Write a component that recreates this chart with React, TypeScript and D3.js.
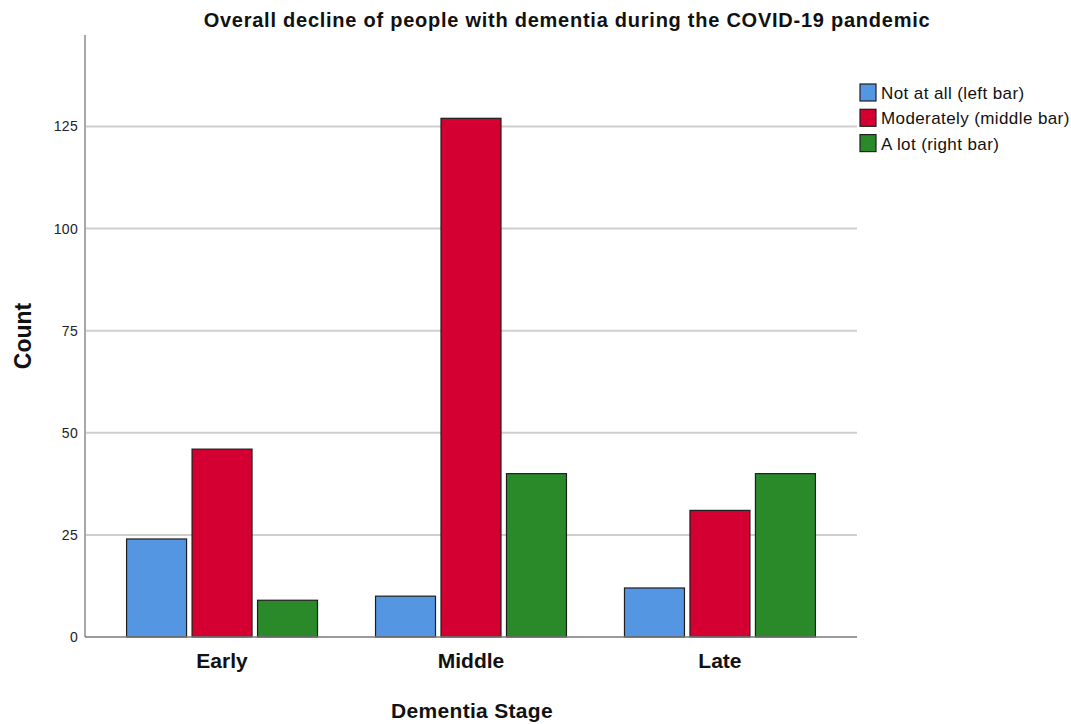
import { useEffect, useRef } from "react";
import * as d3 from "d3";

const stages = ["Early", "Middle", "Late"];
const series = ["Not at all (left bar)", "Moderately (middle bar)", "A lot (right bar)"];
const notAtAll = [24, 10, 12];
const moderately = [46, 127, 31];
const aLot = [9, 40, 40];
const yTicks = [0, 25, 50, 75, 100, 125];
const colors = ["#5596e3", "#d50032", "#2a8a2a"];

const W = 1071;
const H = 724;
const FONT = "'Liberation Sans', Arial, sans-serif";

export default function App() {
  const ref = useRef<SVGSVGElement | null>(null);

  useEffect(() => {
    const svg = d3.select(ref.current);
    svg.selectAll("*").remove();

    const left = 85;
    const right = 857;
    const top = 35;
    const bottom = 637;

    const y = d3.scaleLinear().domain([0, 147.4]).range([bottom, top]);
    const x = d3
      .scaleBand<string>()
      .domain(stages)
      .range([left, right])
      .paddingInner(0.233)
      .paddingOuter(0.167);
    const xs = d3
      .scaleBand<string>()
      .domain(series)
      .range([0, x.bandwidth()])
      .paddingInner(0.084);

    // grid
    svg
      .append("g")
      .selectAll("line")
      .data(yTicks.filter((d) => d > 0))
      .join("line")
      .attr("x1", left)
      .attr("x2", right)
      .attr("y1", (d) => y(d))
      .attr("y2", (d) => y(d))
      .attr("stroke", "#cfcfcf")
      .attr("stroke-width", 2);

    // tick labels
    svg
      .append("g")
      .selectAll("text")
      .data(yTicks)
      .join("text")
      .attr("x", 78)
      .attr("y", (d) => y(d) + 5)
      .attr("text-anchor", "end")
      .attr("font-family", FONT)
      .attr("font-size", 14)
      .attr("letter-spacing", 0.3)
      .attr("fill", "#222")
      .text((d) => d);

    // bars
    const values = [notAtAll, moderately, aLot];
    const rows = stages.flatMap((s, i) =>
      series.map((k, j) => ({ stage: s, key: k, j, v: values[j][i] }))
    );
    svg
      .append("g")
      .selectAll("rect")
      .data(rows)
      .join("rect")
      .attr("x", (d) => (x(d.stage) ?? 0) + (xs(d.key) ?? 0))
      .attr("y", (d) => y(d.v))
      .attr("width", xs.bandwidth())
      .attr("height", (d) => bottom - y(d.v))
      .attr("fill", (d) => colors[d.j])
      .attr("stroke", "#1e1e1e")
      .attr("stroke-width", 1.2);

    // axes
    svg
      .append("line")
      .attr("x1", left)
      .attr("x2", left)
      .attr("y1", top)
      .attr("y2", bottom)
      .attr("stroke", "#a8a8a8")
      .attr("stroke-width", 2);
    svg
      .append("line")
      .attr("x1", left)
      .attr("x2", right)
      .attr("y1", bottom)
      .attr("y2", bottom)
      .attr("stroke", "#7a7a7a")
      .attr("stroke-width", 1.5);

    // category labels
    svg
      .append("g")
      .selectAll("text")
      .data(stages)
      .join("text")
      .attr("x", (d) => (x(d) ?? 0) + x.bandwidth() / 2)
      .attr("y", 668)
      .attr("text-anchor", "middle")
      .attr("font-family", FONT)
      .attr("font-weight", 700)
      .attr("font-size", 21)
      .attr("fill", "#111")
      .text((d) => d);

    // axis titles
    svg
      .append("text")
      .attr("x", (left + right) / 2 + 1)
      .attr("y", 718)
      .attr("text-anchor", "middle")
      .attr("font-family", FONT)
      .attr("font-weight", 700)
      .attr("font-size", 21)
      .attr("letter-spacing", 0.3)
      .attr("fill", "#111")
      .text("Dementia Stage");
    svg
      .append("text")
      .attr("transform", `translate(31,${(top + bottom) / 2}) rotate(-90)`)
      .attr("text-anchor", "middle")
      .attr("font-family", FONT)
      .attr("font-weight", 700)
      .attr("font-size", 23)
      .attr("fill", "#111")
      .text("Count");

    // title
    svg
      .append("text")
      .attr("x", 567)
      .attr("y", 27)
      .attr("text-anchor", "middle")
      .attr("font-family", FONT)
      .attr("font-weight", 700)
      .attr("font-size", 20)
      .attr("letter-spacing", 0.75)
      .attr("fill", "#111")
      .text("Overall decline of people with dementia during the COVID-19 pandemic");

    // legend
    const lg = svg
      .append("g")
      .selectAll("g")
      .data(series)
      .join("g")
      .attr("transform", (_, i) => `translate(860,${84 + i * 25.3})`);
    lg.append("rect")
      .attr("width", 16)
      .attr("height", 17)
      .attr("fill", (_, i) => colors[i])
      .attr("stroke", "#1e1e1e")
      .attr("stroke-width", 1.2);
    lg.append("text")
      .attr("x", 21)
      .attr("y", 15)
      .attr("font-family", FONT)
      .attr("font-size", 17)
      .attr("letter-spacing", 0.4)
      .attr("fill", "#111")
      .text((d) => d);
  }, []);

  return (
    <div style={{ position: "fixed", left: 0, top: 0 }}>
      <svg ref={ref} width={W} height={H} style={{ display: "block", background: "#fff" }} />
    </div>
  );
}
